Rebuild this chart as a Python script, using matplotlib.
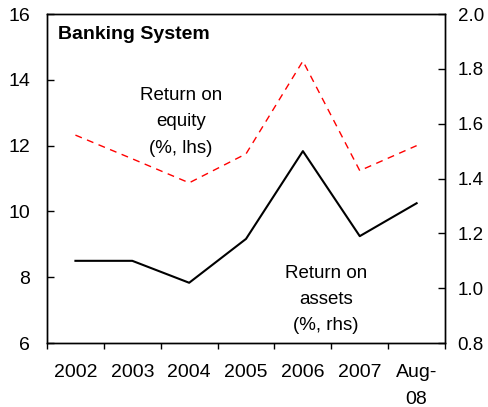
import numpy as np
import matplotlib
matplotlib.use("Agg")
import matplotlib.pyplot as plt

plt.rcParams["font.family"] = ["Liberation Sans", "DejaVu Sans"]

years = ["2002", "2003", "2004", "2005", "2006", "2007", "Aug-\n08"]
roe = [12.32, 11.6, 10.87, 11.75, 14.57, 11.24, 12.0]  # lhs, %
roa = [1.10, 1.10, 1.02, 1.18, 1.50, 1.19, 1.31]       # rhs, %

fig = plt.figure(figsize=(4.88, 4.07), dpi=100)
ax = fig.add_axes([0.0963, 0.157, 0.8157, 0.8086])
ax2 = ax.twinx()

x = np.arange(len(years))
ax.plot(x, roe, color="#ff0000", lw=1.0, dashes=(5, 4))
ax2.plot(x, roa, color="black", lw=1.5)

ax.set_xlim(-0.5, len(years) - 0.5)
ax.set_ylim(6, 16)
ax.set_yticks(np.arange(6, 17, 2))
ax2.set_ylim(0.8, 2.0)
ax2.set_yticks(np.arange(0.8, 2.01, 0.2))
ax2.set_yticklabels([f"{v:.1f}" for v in np.arange(0.8, 2.01, 0.2)])

# category ticks sit between labels
ax.set_xticks(np.arange(-0.5, len(years), 1.0))
ax.set_xticklabels([])
ax.set_xticks(x, minor=True)
ax.set_xticklabels(years, minor=True, linespacing=1.75)
ax.tick_params(axis="x", which="major", direction="out", length=4, width=1)
ax.tick_params(axis="x", which="minor", length=0, labelsize=14, pad=15)
ax.tick_params(axis="y", direction="in", length=5, width=1, labelsize=14, pad=12)
ax2.tick_params(axis="y", direction="in", length=5, width=1, labelsize=13.5, pad=9)

for a in (ax, ax2):
    for s in a.spines.values():
        s.set_linewidth(1.0)

ax.text(0.028, 0.963, "Banking System", transform=ax.transAxes, fontsize=14,
        fontweight="bold", va="top", ha="left")
ax.text(1.85, 12.72, "Return on\nequity\n(%, lhs)", fontsize=13.5, ha="center",
        va="center", linespacing=1.7)
ax2.text(4.41, 0.96, "Return on\nassets\n(%, rhs)", fontsize=13.5, ha="center",
         va="center", linespacing=1.7)

fig.savefig("out.png", dpi=100)
